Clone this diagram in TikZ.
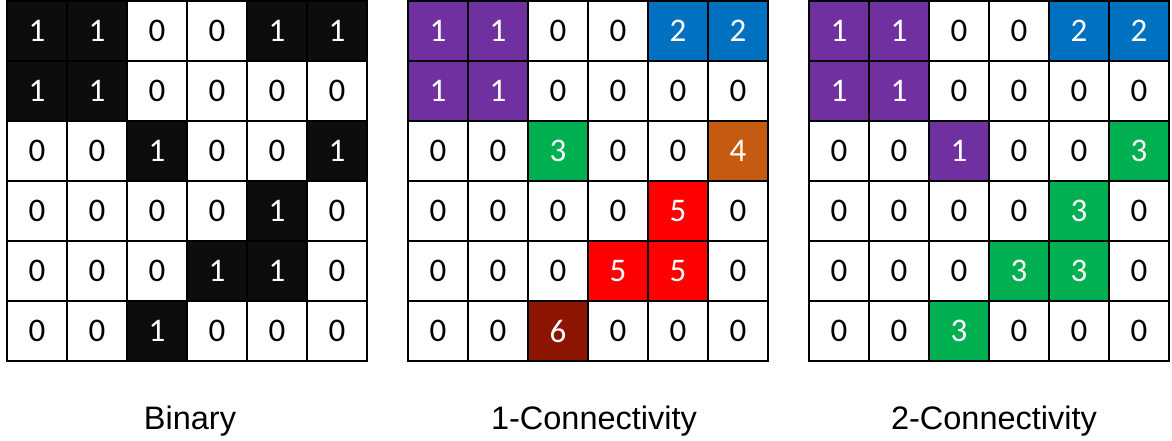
\documentclass[tikz,border=0pt]{standalone}
\usepackage{fontspec}
\newfontfamily\cellfont{Carlito}
\newfontfamily\labfont{Liberation Sans}
\definecolor{binblack}{HTML}{0D0D0D}
\definecolor{cpur}{HTML}{7030A0}
\definecolor{cblue}{HTML}{0070C0}
\definecolor{cgreen}{HTML}{00B050}
\definecolor{corange}{HTML}{C55A11}
\definecolor{cred}{HTML}{FF0000}
\definecolor{cdark}{HTML}{8B1500}
\tikzset{
  cell/.style={draw=black, line width=1.6pt, minimum size=60pt, inner sep=0pt,
    font=\cellfont\fontsize{33}{33}\selectfont},
  lab/.style={anchor=base, font=\labfont\fontsize{32.5}{33}\selectfont}
}
\newcommand\gridrow[4]{%
  \foreach \v/\c [count=\j from 0] in {#4} {%
    \ifnum\v=0 \def\tc{black}\else\def\tc{white}\fi
    \node[cell, fill=\c, text=\tc] (#1-#3-\j) at ({#2+30+60*\j},{31+60*#3}) {\v};
  }%
}
\begin{document}
\begin{tikzpicture}[x=1pt,y=-1pt]
\useasboundingbox (0,0) rectangle (1172,441);
% Binary
\gridrow{a}{7}{0}{1/binblack,1/binblack,0/white,0/white,1/binblack,1/binblack}
\gridrow{a}{7}{1}{1/binblack,1/binblack,0/white,0/white,0/white,0/white}
\gridrow{a}{7}{2}{0/white,0/white,1/binblack,0/white,0/white,1/binblack}
\gridrow{a}{7}{3}{0/white,0/white,0/white,0/white,1/binblack,0/white}
\gridrow{a}{7}{4}{0/white,0/white,0/white,1/binblack,1/binblack,0/white}
\gridrow{a}{7}{5}{0/white,0/white,1/binblack,0/white,0/white,0/white}
% 1-Connectivity
\gridrow{b}{408}{0}{1/cpur,1/cpur,0/white,0/white,2/cblue,2/cblue}
\gridrow{b}{408}{1}{1/cpur,1/cpur,0/white,0/white,0/white,0/white}
\gridrow{b}{408}{2}{0/white,0/white,3/cgreen,0/white,0/white,4/corange}
\gridrow{b}{408}{3}{0/white,0/white,0/white,0/white,5/cred,0/white}
\gridrow{b}{408}{4}{0/white,0/white,0/white,5/cred,5/cred,0/white}
\gridrow{b}{408}{5}{0/white,0/white,6/cdark,0/white,0/white,0/white}
% 2-Connectivity
\gridrow{c}{809}{0}{1/cpur,1/cpur,0/white,0/white,2/cblue,2/cblue}
\gridrow{c}{809}{1}{1/cpur,1/cpur,0/white,0/white,0/white,0/white}
\gridrow{c}{809}{2}{0/white,0/white,1/cpur,0/white,0/white,3/cgreen}
\gridrow{c}{809}{3}{0/white,0/white,0/white,0/white,3/cgreen,0/white}
\gridrow{c}{809}{4}{0/white,0/white,0/white,3/cgreen,3/cgreen,0/white}
\gridrow{c}{809}{5}{0/white,0/white,3/cgreen,0/white,0/white,0/white}
% labels
\node[lab] (la) at (190,429) {Binary};
\node[lab] (lb) at (594,429) {1-Connectivity};
\node[lab] (lc) at (994,429) {2-Connectivity};
\end{tikzpicture}
\end{document}
